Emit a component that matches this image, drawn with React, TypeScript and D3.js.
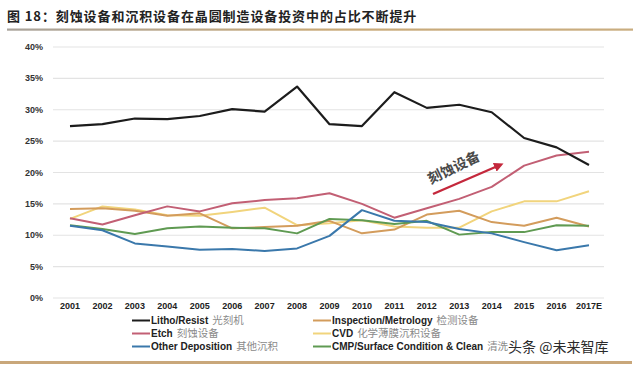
import React from "react";
import * as d3 from "d3";

const years = ["2001","2002","2003","2004","2005","2006","2007","2008","2009","2010","2011","2012","2013","2014","2015","2016","2017E"];
const yTicks = [0, 5, 10, 15, 20, 25, 30, 35, 40];

const litho = [27.4, 27.7, 28.6, 28.5, 29.0, 30.1, 29.7, 33.7, 27.7, 27.4, 32.8, 30.3, 30.8, 29.6, 25.5, 24.0, 21.2];
const inspection = [14.2, 14.3, 13.9, 13.1, 13.5, 11.1, 11.3, 11.5, 12.3, 10.3, 10.9, 13.3, 13.9, 12.1, 11.5, 12.8, 11.4];
const etch = [12.7, 11.7, 13.2, 14.6, 13.8, 15.1, 15.6, 15.9, 16.7, 15.0, 12.8, 14.3, 15.8, 17.7, 21.1, 22.7, 23.3];
const cvd = [12.6, 14.6, 14.1, 13.2, 13.1, 13.7, 14.4, 11.6, 11.9, 12.4, 11.4, 11.2, 11.2, 13.8, 15.4, 15.4, 17.0];
const otherDep = [11.5, 10.8, 8.7, 8.2, 7.7, 7.8, 7.5, 7.9, 9.9, 14.0, 12.3, 12.1, 11.0, 10.3, 8.9, 7.6, 8.4];
const cmp = [11.6, 11.0, 10.2, 11.1, 11.4, 11.2, 11.1, 10.3, 12.6, 12.4, 11.8, 12.3, 10.1, 10.5, 10.5, 11.6, 11.5];

const seriesNames = ["Litho/Resist", "Inspection/Metrology", "Etch", "CVD", "Other Deposition", "CMP/Surface Condition & Clean"];
const seriesCn = ["光刻机", "检测设备", "刻蚀设备", "化学薄膜沉积设备", "其他沉积", "清洗"];
const seriesColors = ["#1c1c1c", "#d39c5c", "#c25f74", "#f1d47c", "#3a78ab", "#5f9a52"];
const seriesData = [litho, inspection, etch, cvd, otherDep, cmp];

const titleText = "图 18：刻蚀设备和沉积设备在晶圆制造设备投资中的占比不断提升";
const annotation = "刻蚀设备";
const watermark = "头条 @未来智库";

export default function App() {
  const x = d3.scalePoint<string>().domain(years).range([70, 589]);
  const y = d3.scaleLinear().domain([0, 40]).range([298, 47]);
  const line = d3
    .line<number>()
    .x((_, i) => x(years[i]) as number)
    .y((d) => y(d))
    .curve(d3.curveLinear);

  const sans = "'Liberation Sans', Arial, sans-serif";
  const cjk = "'Noto Sans CJK SC', sans-serif";

  const order = [3, 1, 5, 4, 2, 0];

  const legendPos = [
    { lx: 132, ty: 324 },
    { lx: 313, ty: 324 },
    { lx: 132, ty: 337 },
    { lx: 313, ty: 337 },
    { lx: 132, ty: 350 },
    { lx: 313, ty: 350 },
  ];

  const a0 = [433, 194];
  const a1 = [500, 165];

  return (
    <svg
      width={640}
      height={369}
      style={{ position: "absolute", left: 0, top: 0, background: "#fff" }}
    >
      <defs>
        <linearGradient id="tl" x1="0" x2="1" y1="0" y2="0">
          <stop offset="0" stopColor="#a8a29a" />
          <stop offset="0.5" stopColor="#c8a978" />
          <stop offset="1" stopColor="#c9ad80" />
        </linearGradient>
        <marker id="ah" viewBox="0 0 10 10" refX="6" refY="5" markerWidth="4" markerHeight="4" orient="auto">
          <path d="M0,0 L10,5 L0,10 z" fill="#c4283c" />
        </marker>
      </defs>
      <rect x={0} y={0} width={640} height={369} fill="#fff" />

      <text x={7} y={21} fontFamily={cjk} fontWeight={700} fontSize={13} fill="#222" letterSpacing={0.9}>
        {titleText}
      </text>
      <rect x={7} y={28.5} width={626} height={2.2} fill="url(#tl)" />

      {yTicks.map((t) => (
        <g key={t}>
          <line x1={53} x2={604} y1={y(t)} y2={y(t)} stroke="#e3e3e3" strokeWidth={1.2} />
          <text x={43} y={y(t) + 3} textAnchor="end" fontFamily={sans} fontWeight={700} fontSize={9} fill="#333">
            {t + "%"}
          </text>
        </g>
      ))}

      {years.map((yr) => (
        <text key={yr} x={x(yr)} y={309} textAnchor="middle" fontFamily={sans} fontWeight={700} fontSize={9} fill="#222">
          {yr}
        </text>
      ))}

      {order.map((i) => (
        <path
          key={seriesNames[i]}
          d={line(seriesData[i]) || ""}
          fill="none"
          stroke={seriesColors[i]}
          strokeWidth={i === 0 ? 2.2 : 2}
          strokeLinejoin="round"
        />
      ))}

      <line x1={a0[0]} y1={a0[1]} x2={a1[0]} y2={a1[1]} stroke="#c4283c" strokeWidth={2.4} markerEnd="url(#ah)" />
      <text
        transform="translate(456,172) rotate(-26)"
        textAnchor="middle"
        fontFamily={cjk}
        fontWeight={700}
        fontSize={14}
        fill="#4a4a4a"
      >
        {annotation}
      </text>

      {seriesNames.map((n, i) => (
        <g key={n}>
          <line
            x1={legendPos[i].lx}
            x2={legendPos[i].lx + 18}
            y1={legendPos[i].ty - 3.5}
            y2={legendPos[i].ty - 3.5}
            stroke={seriesColors[i]}
            strokeWidth={2}
          />
          <text x={legendPos[i].lx + 19} y={legendPos[i].ty} fontFamily={sans} fontWeight={700} fontSize={10} fill="#222">
            {n}
            <tspan fontFamily={cjk} fontWeight={400} fontSize={10.5} fill="#8a8a8a" dx={4}>
              {seriesCn[i]}
            </tspan>
          </text>
        </g>
      ))}

      <text
        x={508}
        y={352}
        fontFamily={cjk}
        fontSize={14}
        fill="#2a2a2a"
        stroke="#fff"
        strokeWidth={0.6}
        paintOrder="stroke"
      >
        {watermark}
      </text>

      <rect x={0} y={361} width={632} height={3} fill="#c9a77a" />
    </svg>
  );
}
